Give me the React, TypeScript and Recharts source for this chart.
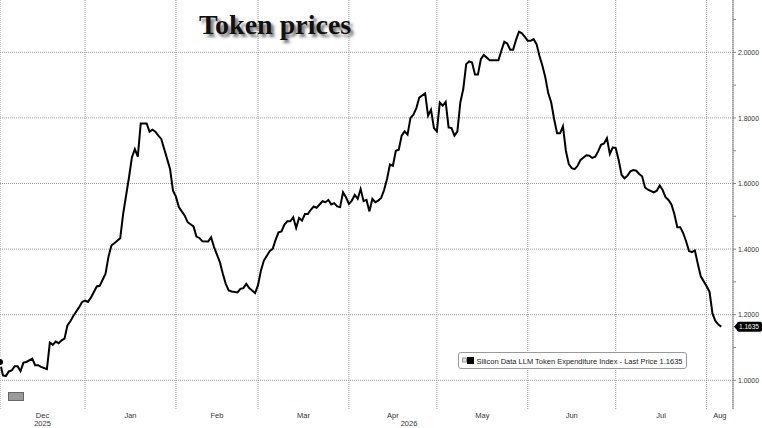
import { LineChart, Line, XAxis, YAxis, CartesianGrid, ReferenceLine, Legend } from 'recharts'

// Silicon Data LLM Token Expenditure Index, daily closes
const dates = [
  '2025-12-03', '2025-12-04', '2025-12-05', '2025-12-06', '2025-12-07', '2025-12-08', '2025-12-09', '2025-12-10',
  '2025-12-11', '2025-12-12', '2025-12-14', '2025-12-15', '2025-12-16', '2025-12-17', '2025-12-19', '2025-12-20',
  '2025-12-21', '2025-12-22', '2025-12-23', '2025-12-24', '2025-12-25', '2025-12-26', '2025-12-27', '2025-12-28',
  '2025-12-30', '2025-12-31', '2026-01-01', '2026-01-02', '2026-01-03', '2026-01-05', '2026-01-06', '2026-01-08',
  '2026-01-09', '2026-01-10', '2026-01-11', '2026-01-13', '2026-01-14', '2026-01-16', '2026-01-17', '2026-01-18',
  '2026-01-19', '2026-01-20', '2026-01-22', '2026-01-23', '2026-01-24', '2026-01-25', '2026-01-26', '2026-01-27',
  '2026-01-28', '2026-01-29', '2026-01-30', '2026-01-31', '2026-02-01', '2026-02-02', '2026-02-04', '2026-02-05',
  '2026-02-07', '2026-02-08', '2026-02-09', '2026-02-10', '2026-02-12', '2026-02-13', '2026-02-14', '2026-02-16',
  '2026-02-17', '2026-02-18', '2026-02-19', '2026-02-20', '2026-02-22', '2026-02-23', '2026-02-24', '2026-02-25',
  '2026-02-26', '2026-02-27', '2026-02-28', '2026-03-01', '2026-03-02', '2026-03-03', '2026-03-05', '2026-03-06',
  '2026-03-07', '2026-03-08', '2026-03-09', '2026-03-10', '2026-03-11', '2026-03-12', '2026-03-13', '2026-03-14',
  '2026-03-15', '2026-03-16', '2026-03-17', '2026-03-18', '2026-03-19', '2026-03-20', '2026-03-21', '2026-03-23',
  '2026-03-24', '2026-03-25', '2026-03-26', '2026-03-27', '2026-03-28', '2026-03-29', '2026-03-30', '2026-03-31',
  '2026-04-01', '2026-04-02', '2026-04-03', '2026-04-04', '2026-04-05', '2026-04-06', '2026-04-07', '2026-04-08',
  '2026-04-09', '2026-04-10', '2026-04-11', '2026-04-12', '2026-04-13', '2026-04-14', '2026-04-15', '2026-04-16',
  '2026-04-17', '2026-04-18', '2026-04-19', '2026-04-20', '2026-04-21', '2026-04-22', '2026-04-23', '2026-04-24',
  '2026-04-25', '2026-04-27', '2026-04-28', '2026-04-29', '2026-04-30', '2026-05-01', '2026-05-02', '2026-05-03',
  '2026-05-04', '2026-05-05', '2026-05-06', '2026-05-07', '2026-05-08', '2026-05-09', '2026-05-10', '2026-05-11',
  '2026-05-12', '2026-05-13', '2026-05-14', '2026-05-15', '2026-05-16', '2026-05-17', '2026-05-18', '2026-05-19',
  '2026-05-20', '2026-05-22', '2026-05-23', '2026-05-24', '2026-05-25', '2026-05-26', '2026-05-27', '2026-05-28',
  '2026-05-29', '2026-05-30', '2026-05-31', '2026-06-01', '2026-06-02', '2026-06-03', '2026-06-04', '2026-06-05',
  '2026-06-06', '2026-06-07', '2026-06-08', '2026-06-09', '2026-06-10', '2026-06-11', '2026-06-12', '2026-06-13',
  '2026-06-14', '2026-06-15', '2026-06-16', '2026-06-17', '2026-06-18', '2026-06-19', '2026-06-21', '2026-06-22',
  '2026-06-23', '2026-06-24', '2026-06-25', '2026-06-26', '2026-06-27', '2026-06-28', '2026-06-29', '2026-06-30',
  '2026-07-01', '2026-07-02', '2026-07-03', '2026-07-04', '2026-07-05', '2026-07-06', '2026-07-07', '2026-07-08',
  '2026-07-09', '2026-07-10', '2026-07-11', '2026-07-12', '2026-07-14', '2026-07-15', '2026-07-16', '2026-07-17',
  '2026-07-18', '2026-07-19', '2026-07-20', '2026-07-21', '2026-07-22', '2026-07-23', '2026-07-24', '2026-07-25',
  '2026-07-26', '2026-07-27', '2026-07-28', '2026-07-29', '2026-07-30', '2026-08-01', '2026-08-02', '2026-08-03',
  '2026-08-04', '2026-08-05', '2026-08-06',
]

const prices = [
  1.056, 1.015, 1.013, 1.027, 1.030, 1.043, 1.043, 1.028,
  1.054, 1.056, 1.066, 1.046, 1.046, 1.041, 1.034, 1.115,
  1.108, 1.118, 1.113, 1.122, 1.127, 1.167, 1.180, 1.196,
  1.223, 1.239, 1.243, 1.239, 1.252, 1.286, 1.288, 1.325,
  1.377, 1.411, 1.418, 1.433, 1.507, 1.619, 1.680, 1.705,
  1.682, 1.783, 1.783, 1.758, 1.764, 1.758, 1.746, 1.736,
  1.705, 1.675, 1.644, 1.578, 1.560, 1.528, 1.502, 1.482,
  1.469, 1.438, 1.434, 1.424, 1.423, 1.436, 1.406, 1.360,
  1.325, 1.294, 1.274, 1.271, 1.268, 1.279, 1.281, 1.294,
  1.281, 1.274, 1.266, 1.290, 1.335, 1.365, 1.394, 1.401,
  1.428, 1.451, 1.454, 1.475, 1.485, 1.485, 1.497, 1.465,
  1.495, 1.487, 1.507, 1.507, 1.520, 1.530, 1.526, 1.546,
  1.543, 1.550, 1.536, 1.540, 1.530, 1.528, 1.573, 1.558,
  1.538, 1.548, 1.565, 1.553, 1.583, 1.546, 1.550, 1.515,
  1.553, 1.543, 1.548, 1.556, 1.580, 1.614, 1.658, 1.654,
  1.700, 1.703, 1.746, 1.759, 1.749, 1.800, 1.810, 1.830,
  1.862, 1.875, 1.807, 1.825, 1.769, 1.759, 1.847, 1.837,
  1.849, 1.771, 1.769, 1.746, 1.759, 1.847, 1.888, 1.964,
  1.972, 1.969, 1.932, 1.932, 1.979, 1.992, 1.984, 1.976,
  1.976, 1.976, 2.005, 2.032, 2.027, 2.008, 2.008, 2.038,
  2.063, 2.058, 2.047, 2.035, 2.035, 2.040, 2.025, 1.989,
  1.959, 1.923, 1.875, 1.847, 1.796, 1.753, 1.753, 1.774,
  1.700, 1.659, 1.647, 1.644, 1.654, 1.672, 1.686, 1.685,
  1.678, 1.682, 1.698, 1.718, 1.722, 1.738, 1.690, 1.710,
  1.708, 1.672, 1.626, 1.616, 1.624, 1.637, 1.641, 1.639,
  1.629, 1.622, 1.588, 1.581, 1.573, 1.578, 1.594, 1.580,
  1.558, 1.550, 1.536, 1.507, 1.467, 1.467, 1.449, 1.424,
  1.394, 1.391, 1.396, 1.355, 1.317, 1.287, 1.270, 1.203,
  1.181, 1.170, 1.1635,
]

const lastPrice = 1.1635
const seriesName = 'Silicon Data LLM Token Expenditure Index'

const rangeStart = '2025-12-03'
const rangeEnd = '2026-08-10'
const monthStarts = [
  '2025-12-01', '2026-01-01', '2026-02-01', '2026-03-01', '2026-04-01',
  '2026-05-01', '2026-06-01', '2026-07-01', '2026-08-01', '2026-09-01',
]
const monthNames = ['Dec', 'Jan', 'Feb', 'Mar', 'Apr', 'May', 'Jun', 'Jul', 'Aug']
const yearStarts = ['2025-01-01', '2026-01-01', '2027-01-01']
const yearNames = ['2025', '2026']
const yTicks = [1.0, 1.1, 1.2, 1.3, 1.4, 1.5, 1.6, 1.7, 1.8, 1.9, 2.0, 2.1]
const yDomain = [0.9125, 2.1595]

const ts = (s: string) => Date.parse(s + 'T00:00:00Z')
const x0 = ts(rangeStart)
const x1 = ts(rangeEnd)

const data = dates.map((d, i) => ({ t: ts(d), price: prices[i] }))

const gridTicks = monthStarts.map(ts).filter((t) => t > x0 && t < x1)
const yearBreaks = yearStarts.map(ts)
const mid = (a: number, b: number) => (Math.max(a, x0) + Math.min(b, x1)) / 2
const monthLabels = monthNames.map((name, i) => ({ t: mid(ts(monthStarts[i]), ts(monthStarts[i + 1])), name }))
const yearLabels = yearNames.map((name, i) => ({ t: mid(yearBreaks[i], yearBreaks[i + 1]), name }))
const labelTicks = Array.from(new Set([...monthLabels, ...yearLabels].map((l) => l.t))).sort((a, b) => a - b)

const FONT = "'Liberation Sans', Arial, sans-serif"
const near = (a: number, b: number) => Math.abs(a - b) < 3600000

function GridTick({ x, y, payload }: any) {
  const isYear = yearBreaks.some((b) => near(b, payload.value))
  return <line x1={x} x2={x} y1={y} y2={y + (isYear ? 19 : 3)} stroke="#aaa" />
}

function DateTick({ x, y, payload }: any) {
  const m = monthLabels.find((l) => near(l.t, payload.value))
  const yr = yearLabels.find((l) => near(l.t, payload.value))
  return (
    <g fontFamily={FONT} fontSize={7.5} fill="#333" textAnchor="middle">
      {m && <text x={x} y={y + 8.5}>{m.name}</text>}
      {yr && <text x={x} y={y + 17}>{yr.name}</text>}
    </g>
  )
}

function PriceTick({ x, y, payload }: any) {
  if (Math.round(payload.value * 10) % 2 !== 0) return null
  return (
    <text
      x={x}
      y={y}
      dy="0.35em"
      fontFamily={FONT}
      fontSize={7.5}
      fill="#333"
      textAnchor="start"
      textLength={21}
      lengthAdjust="spacingAndGlyphs"
    >
      {payload.value.toFixed(4)}
    </text>
  )
}

function PriceTag({ viewBox }: any) {
  const left = viewBox.x + viewBox.width + 1
  const cy = viewBox.y
  return (
    <g>
      <path d={`M${left},${cy} L${left + 4},${cy - 4.5} L${left + 4},${cy + 4.5} Z`} fill="#000" />
      <rect x={left + 3} y={cy - 5} width={762 - left - 3} height={10} rx={2} fill="#000" />
      <text
        x={left + 5}
        y={cy}
        dy="0.35em"
        fontFamily={FONT}
        fontSize={7.5}
        fill="#fff"
        textLength={20}
        lengthAdjust="spacingAndGlyphs"
      >
        {lastPrice.toFixed(4)}
      </text>
    </g>
  )
}

function LegendBox() {
  return (
    <svg width={229} height={17} style={{ display: 'block' }}>
      <rect x={0.5} y={0.5} width={228} height={16} rx={2.5} fill="#fff" stroke="#999" />
      <rect x={4.5} y={6} width={4} height={4} fill="#ddd" stroke="#999" />
      <rect x={9} y={5} width={7} height={7} fill="#000" />
      <text
        x={18.5}
        y={11.5}
        fontFamily={FONT}
        fontSize={7.5}
        fill="#222"
        textLength={206}
        lengthAdjust="spacingAndGlyphs"
      >
        {seriesName} - Last Price {lastPrice.toFixed(4)}
      </text>
    </svg>
  )
}

export default function App() {
  return (
    <div style={{ position: 'absolute', left: 0, top: 0, width: 762, height: 428, background: '#fff' }}>
      <LineChart width={762} height={428} data={data} margin={{ top: 0, right: 0, bottom: 0, left: 0 }}>
        <CartesianGrid
          xAxisId="grid"
          stroke="#999"
          strokeDasharray="1 1"
          horizontalValues={yTicks.filter((v) => Math.round(v * 10) % 2 === 0)}
        />
        <XAxis
          xAxisId="grid"
          dataKey="t"
          type="number"
          domain={[x0, x1]}
          allowDataOverflow
          ticks={gridTicks}
          interval={0}
          height={0}
          tickSize={0}
          tickMargin={0}
          tickLine={false}
          tick={<GridTick />}
          axisLine={{ stroke: '#888' }}
        />
        <XAxis
          xAxisId="dates"
          dataKey="t"
          type="number"
          domain={[x0, x1]}
          allowDataOverflow
          ticks={labelTicks}
          interval={0}
          height={19}
          tickSize={0}
          tickMargin={0}
          tickLine={false}
          axisLine={false}
          tick={<DateTick />}
        />
        <YAxis
          orientation="right"
          type="number"
          domain={yDomain}
          allowDataOverflow
          ticks={yTicks}
          interval={0}
          width={29}
          tickSize={3}
          tickMargin={2}
          tickLine={{ stroke: '#888' }}
          axisLine={{ stroke: '#888' }}
          tick={<PriceTick />}
        />
        <ReferenceLine xAxisId="grid" y={lastPrice} stroke="none" label={{ content: (p: any) => <PriceTag {...p} /> }} />
        <Legend
          layout="horizontal"
          verticalAlign="middle"
          align="center"
          width={229}
          height={17}
          wrapperStyle={{ left: 458, top: 352 }}
          content={() => <LegendBox />}
        />
        <Line
          xAxisId="grid"
          dataKey="price"
          name={seriesName}
          stroke="#000"
          strokeWidth={2}
          dot={false}
          isAnimationActive={false}
        />
      </LineChart>
      <div
        style={{
          position: 'absolute',
          left: 199,
          top: 11,
          fontFamily: "'Liberation Serif', 'DejaVu Serif', serif",
          fontWeight: 'bold',
          fontSize: 28,
          lineHeight: '28px',
          color: '#111',
          textShadow: '3px 3px 3px rgba(0,0,0,0.55)',
          whiteSpace: 'nowrap',
        }}
      >
        Token prices
      </div>
      <div
        style={{
          position: 'absolute',
          left: 8,
          top: 392,
          width: 16,
          height: 9,
          boxSizing: 'border-box',
          background: '#9a9a9a',
          border: '1px solid #666',
        }}
      />
    </div>
  )
}
